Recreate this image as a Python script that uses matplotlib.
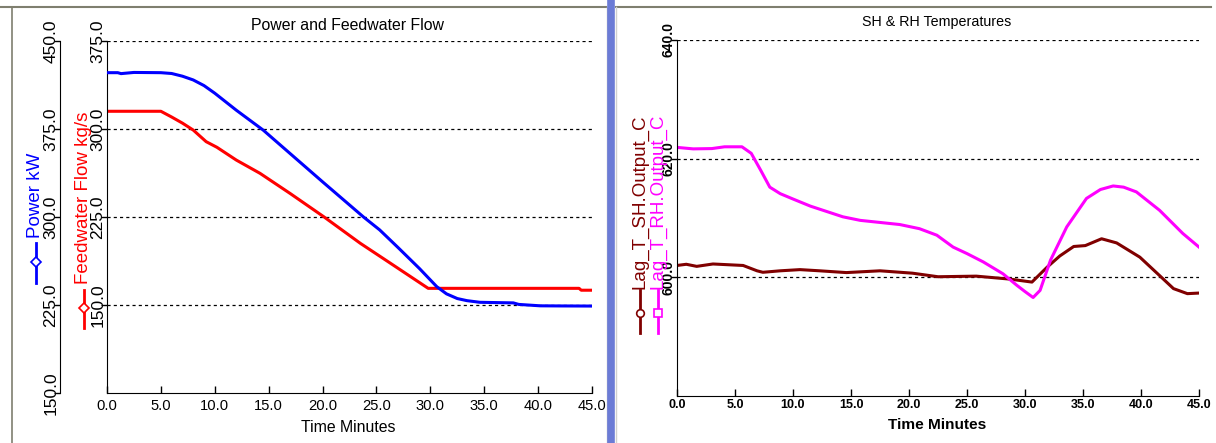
"""
Power / feedwater flow and SH / RH temperature trends during a load ramp.
"""

import matplotlib
matplotlib.use("Agg")
import matplotlib.pyplot as plt
from matplotlib.lines import Line2D
from matplotlib import font_manager

# data
time_power = [0, 1.0, 1.3, 2.5, 5.0, 6.0, 7.0, 8.0, 9.0, 10.0, 12.0, 14.5, 17.0,
              20.0, 23.8, 25.3, 27.0, 29.0, 30.6, 31.5, 32.5, 33.4, 34.6, 37.7,
              38.2, 40.2, 42.0, 45.0]
power_kw = [423.0, 423.0, 422.2, 423.2, 423.0, 422.3, 420.0, 416.8, 412.0, 405.5,
            391.0, 374.0, 354.0, 330.0, 300.0, 289.0, 274.0, 256.0, 240.6, 234.5,
            230.5, 228.7, 227.3, 226.8, 225.5, 224.3, 224.2, 224.1]

time_feed = [0, 5.0, 6.0, 7.0, 8.0, 9.2, 10.2, 12.0, 14.2, 17.0, 20.1, 23.5, 26.0,
             29.8, 35.0, 40.0, 43.8, 44.0, 45.0]
feed_flow = [315.1, 315.1, 310.2, 305.0, 299.1, 289.2, 284.4, 273.5, 262.2, 245.0,
             225.3, 202.6, 187.4, 164.2, 164.2, 164.2, 164.2, 162.6, 162.6]

time_rh = [0, 1.4, 3.0, 4.1, 5.6, 6.4, 7.2, 8.0, 8.9, 10.0, 11.5, 14.3, 15.8, 19.2,
           20.9, 22.4, 23.8, 25.0, 26.4, 28.1, 29.3, 30.0, 30.7, 31.3, 32.2, 33.6,
           35.3, 36.5, 37.6, 38.5, 39.6, 41.6, 43.6, 45.0]
rh_temp = [621.9, 621.65, 621.7, 622.0, 622.0, 620.9, 618.1, 615.2, 614.1, 613.2,
           612.0, 610.2, 609.6, 608.9, 608.2, 607.1, 605.1, 604.0, 602.6, 600.6,
           598.65, 597.6, 596.6, 597.8, 602.9, 608.5, 613.3, 614.8, 615.4, 615.2,
           614.4, 611.3, 607.4, 605.1]

time_sh = [0, 0.8, 1.7, 3.1, 5.7, 6.9, 7.4, 8.9, 10.6, 12.3, 14.6, 17.5, 20.3, 22.5,
           25.8, 28.7, 30.6, 31.9, 33.0, 34.2, 35.2, 36.6, 37.9, 39.9, 41.6, 42.8,
           44.0, 45.0]
sh_temp = [602.0, 602.2, 601.85, 602.25, 602.0, 601.1, 600.85, 601.1, 601.3, 601.1,
           600.8, 601.1, 600.7, 600.1, 600.2, 599.7, 599.2, 601.7, 603.6, 605.2,
           605.35, 606.5, 605.8, 603.4, 600.3, 598.1, 597.25, 597.35]

x_ticks = [0, 5, 10, 15, 20, 25, 30, 35, 40, 45]
power_ticks = [150, 225, 300, 375, 450]
feed_ticks = [150, 225, 300, 375]
temp_ticks = [600, 620, 640]

W, H = 1216, 443

names = {f.name for f in font_manager.fontManager.ttflist}
if "Liberation Sans Narrow" in names:
  NARROW, SQ = "Liberation Sans Narrow", 1.0
else:
  NARROW, SQ = "Liberation Sans", 0.82

plt.rcParams["font.family"] = ["Liberation Sans", "DejaVu Sans"]


def fx(x):
  return x / W


def fy(y):
  return 1 - y / H


def px_axes(fig, x0, y0, x1, y1, **kw):
  return fig.add_axes([fx(x0), fy(y1), fx(x1 - x0), (y1 - y0) / H], **kw)


def fmt(v):
  return "{:.1f}".format(v)


def style_y(axis, ticks, size, weight="normal"):
  axis.set_yticks(ticks)
  axis.set_yticklabels([fmt(t) for t in ticks], fontsize=size, fontweight=weight)
  axis.tick_params(axis="y", which="both", direction="out", length=4, width=1,
                   pad=-3, left=True, right=False)
  for lbl in axis.get_yticklabels():
    lbl.set_rotation(90)
    lbl.set_va("center")
    lbl.set_ha("right")


def legend_glyph(fig, x, y0, y1, ym, color, marker):
  fig.add_artist(Line2D([fx(x), fx(x)], [fy(y0), fy(y1)], color=color, lw=2))
  fig.add_artist(Line2D([fx(x)], [fy(ym)], color=color, marker=marker, ms=5.5,
                        mfc="white", mec=color, mew=1.2))


fig = plt.figure(figsize=(W / 100, H / 100), dpi=100)
fig.patch.set_facecolor("white")

# window frames
gray = "#7f7f6f"
fig.add_artist(Line2D([0, fx(606)], [fy(6.5), fy(6.5)], color=gray, lw=1.5))
fig.add_artist(Line2D([fx(616), fx(1211)], [fy(6.5), fy(6.5)], color=gray, lw=1.5))
fig.add_artist(Line2D([fx(11.5), fx(11.5)], [fy(6.5), 0], color=gray, lw=1.2))
fig.add_artist(Line2D([fx(606.5), fx(606.5)], [fy(6.5), 0], color="#c8c8c8", lw=1))
fig.add_artist(Line2D([fx(611), fx(611)], [1, 0], color="#6b7bd6", lw=5.5))
fig.add_artist(Line2D([fx(616), fx(616)], [fy(6.5), 0], color="#d0d0d0", lw=1))

dash = (0, (2.5, 2.5))

# ---- left panel: power and feedwater flow ----
ax = px_axes(fig, 107, 41, 592, 393)
ax.plot(time_feed, feed_flow, color="#ff0000", lw=2.2)
ax.set_xlim(0, 45)
ax.set_ylim(75, 375)
style_y(ax, feed_ticks, 12.5)
ax.set_xticks(x_ticks)
ax.set_xticklabels([fmt(t) for t in x_ticks], fontsize=13 * SQ, family=NARROW)
ax.tick_params(axis="x", direction="in", length=5, width=1, pad=4)
ax.grid(axis="y", color="black", lw=0.9, linestyle=dash)
ax.set_axisbelow(True)
for s in ("top", "right"):
  ax.spines[s].set_visible(False)

ax_p = ax.twinx()
ax_p.plot(time_power, power_kw, color="#0000ff", lw=2.2)
ax_p.set_ylim(150, 450)
ax_p.yaxis.tick_left()
ax_p.spines["left"].set_position(("outward", 47 * 0.72))
for s in ("top", "right", "bottom"):
  ax_p.spines[s].set_visible(False)
style_y(ax_p, power_ticks, 12.5)

fig.text(fx(348), fy(25), "Power and Feedwater Flow", ha="center", va="center",
         fontsize=14 * SQ, family=NARROW)
fig.text(fx(348), fy(427), "Time Minutes", ha="center", va="center",
         fontsize=14 * SQ, family=NARROW)

fig.text(fx(36), fy(238), "Power kW", rotation=90, ha="center", va="bottom",
         fontsize=13.5, color="#0000ff")
legend_glyph(fig, 36, 243, 283, 262, "#0000ff", "D")
fig.text(fx(83), fy(284), "Feedwater Flow kg/s", rotation=90, ha="center",
         va="bottom", fontsize=13.5, color="#ff0000")
legend_glyph(fig, 84, 290, 328, 308, "#ff0000", "D")

# ---- right panel: SH & RH temperatures ----
ax_t = px_axes(fig, 677, 40, 1199, 396)
ax_t.plot(time_sh, sh_temp, color="#800000", lw=2.2)
ax_t.plot(time_rh, rh_temp, color="#ff00ff", lw=2.2)
ax_t.set_xlim(0, 45)
ax_t.set_ylim(580, 640)
style_y(ax_t, temp_ticks, 10, "bold")
ax_t.set_xticks(x_ticks)
ax_t.set_xticklabels([fmt(t) for t in x_ticks], fontsize=11 * SQ, family=NARROW,
                     fontweight="bold")
ax_t.tick_params(axis="x", direction="in", length=5, width=1, pad=2)
ax_t.grid(axis="y", color="black", lw=0.9, linestyle=dash)
ax_t.set_axisbelow(True)
for s in ("top", "right"):
  ax_t.spines[s].set_visible(False)

fig.text(fx(937), fy(22), "SH & RH Temperatures", ha="center", va="center",
         fontsize=12.5 * SQ, family=NARROW)
fig.text(fx(937), fy(425), "Time Minutes", ha="center", va="center",
         fontsize=13.5 * SQ, family=NARROW, fontweight="bold")

fig.text(fx(640), fy(289), "Lag_T_SH.Output_C", rotation=90, ha="center",
         va="bottom", fontsize=13.5, color="#800000")
legend_glyph(fig, 640, 290, 333, 313, "#800000", "o")
fig.text(fx(658), fy(289), "Lag_T_RH.Output_C", rotation=90, ha="center",
         va="bottom", fontsize=13.5, color="#ff00ff")
legend_glyph(fig, 658, 290, 333, 313, "#ff00ff", "s")

fig.savefig("out.png", dpi=100, facecolor="white")
plt.close(fig)
